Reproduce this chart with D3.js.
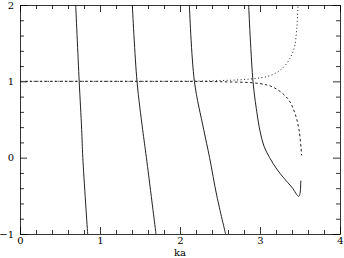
<!DOCTYPE html>
<html>
<head>
<meta charset="utf-8">
<script src="https://cdn.jsdelivr.net/npm/d3@7"></script>
<style>
  body { margin: 0; background: #fff; }
  svg { display: block; }
  .axis text { font-family: 'DejaVu Serif', serif; font-size: 10px; fill: #000; }
  .axis path, .axis line { stroke: #000; stroke-width: 0.8; }
  .label { font-family: 'DejaVu Serif', serif; font-size: 10px; }
</style>
</head>
<body>
<svg width="344" height="258"></svg>
<script>
  // solid branches, [ka, value]
  const branch1 = [[0.696, 2], [0.74, 1], [0.771, 0.37], [0.785, 0], [0.846, -1]];
  const branch2 = [[1.404, 2], [1.4625, 1], [1.533, 0.37], [1.58, 0], [1.70, -1]];
  const branch3 = [[2.117, 2], [2.18, 1], [2.296, 0.37], [2.37, 0], [2.46, -0.5], [2.57, -1]];
  const branch4 = [[2.858, 2], [2.9125, 1], [2.96, 0.6], [3.0, 0.35], [3.05, 0.15], [3.12, 0],
    [3.21, -0.15], [3.3, -0.27], [3.4, -0.39], [3.483, -0.507], [3.5, -0.47], [3.51, -0.30]];
  // dotted (upper) and dashed (lower) branches
  const upper = [[0, 1], [1, 1], [2, 1.0], [2.5, 1.01], [2.875, 1.03], [3.125, 1.075], [3.29, 1.18],
    [3.417, 1.40], [3.46, 1.7], [3.475, 2]];
  const lower = [[0, 1], [1, 1], [2, 1.0], [2.5, 0.995], [3.0, 0.97], [3.17, 0.92], [3.35, 0.77],
    [3.44, 0.57], [3.49, 0.35], [3.52, 0.03]];

  const xTicks = [0, 1, 2, 3, 4];
  const yTicks = [-1, 0, 1, 2];

  const svg = d3.select('svg');
  const margin = { top: 5, right: 4, bottom: 24, left: 20 };
  const width = 344 - margin.left - margin.right;
  const height = 258 - margin.top - margin.bottom;

  const x = d3.scaleLinear().domain([0, 4]).range([margin.left, margin.left + width]);
  const y = d3.scaleLinear().domain([-1, 2]).range([margin.top + height, margin.top]);

  const minorX = d3.range(0, 4.001, 0.2).filter(d => Math.abs(d - Math.round(d)) > 1e-6);
  const minorY = d3.range(-1, 2.001, 0.2).filter(d => Math.abs(d - Math.round(d)) > 1e-6);

  const addAxis = (axisFn, scale, tx, ty, labels) => {
    const g = svg.append('g').attr('class', 'axis').attr('transform', `translate(${tx},${ty})`);
    g.call(axisFn(scale).tickValues(scale === x ? xTicks : yTicks)
      .tickSizeInner(-7).tickSizeOuter(0).tickPadding(axisFn === d3.axisLeft ? 6 : 3)
      .tickFormat(labels ? (d => d < 0 ? '\u22121' : d) : ''));
    const mg = svg.append('g').attr('class', 'axis').attr('transform', `translate(${tx},${ty})`);
    mg.call(axisFn(scale).tickValues(scale === x ? minorX : minorY)
      .tickSizeInner(-4).tickSizeOuter(0).tickFormat(''));
    mg.select('.domain').remove();
  };

  addAxis(d3.axisBottom, x, 0, margin.top + height, true);
  addAxis(d3.axisTop, x, 0, margin.top, false);
  addAxis(d3.axisLeft, y, margin.left, 0, true);
  addAxis(d3.axisRight, y, margin.left + width, 0, false);

  svg.append('text')
    .attr('class', 'label')
    .attr('x', x(2))
    .attr('y', 256)
    .attr('text-anchor', 'middle')
    .text('ka');

  const line = d3.line()
    .x(d => x(d[0]))
    .y(d => y(d[1]))
    .curve(d3.curveCatmullRom);

  svg.selectAll('path.branch')
    .data([branch1, branch2, branch3, branch4])
    .enter().append('path')
    .attr('class', 'branch')
    .attr('d', line)
    .attr('fill', 'none')
    .attr('stroke', '#222')
    .attr('stroke-width', 1);

  svg.append('path')
    .attr('d', line(upper))
    .attr('fill', 'none')
    .attr('stroke', '#222')
    .attr('stroke-width', 1)
    .attr('stroke-dasharray', '1,2.5');

  svg.append('path')
    .attr('d', line(lower))
    .attr('fill', 'none')
    .attr('stroke', '#222')
    .attr('stroke-width', 1)
    .attr('stroke-dasharray', '2.5,2.5');
</script>
</body>
</html>
